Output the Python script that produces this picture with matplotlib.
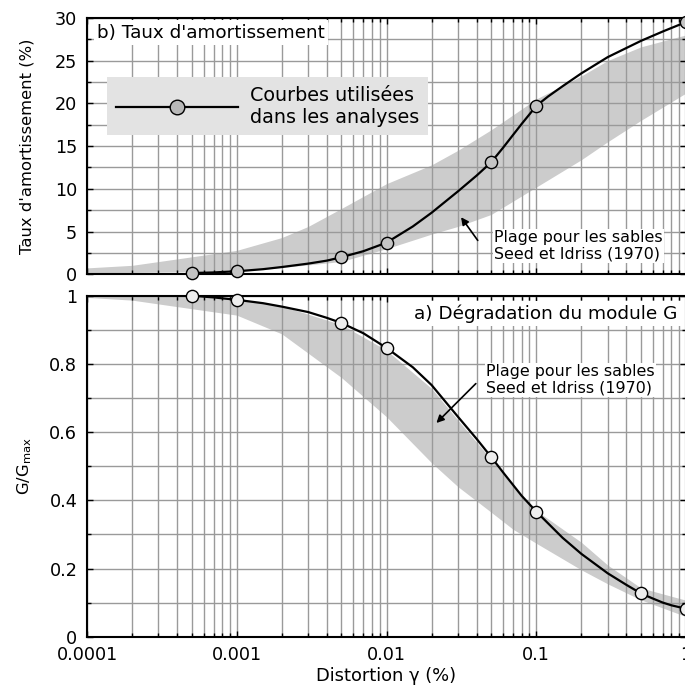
"""Courbes G/Gmax et taux d'amortissement vs distorsion (sables, Seed et Idriss 1970)"""

import numpy as np
import matplotlib
matplotlib.use("Agg")
import matplotlib.pyplot as plt
from matplotlib.ticker import MultipleLocator, FixedLocator, FixedFormatter, NullFormatter
from matplotlib.lines import Line2D

# ---- donnees ----
# taux d'amortissement (%) : courbe utilisee
x_amort_line = [0.0005, 0.0007, 0.001, 0.0015, 0.002, 0.003, 0.004, 0.005, 0.007, 0.01,
                0.015, 0.02, 0.03, 0.04, 0.05, 0.06, 0.07, 0.08, 0.09, 0.1,
                0.12, 0.15, 0.2, 0.3, 0.5, 0.7, 1.0]
amort_line = [0.15, 0.22, 0.35, 0.6, 0.85, 1.25, 1.6, 2.0, 2.7, 3.7,
              5.6, 7.2, 9.7, 11.55, 13.1, 14.8, 16.3, 17.6, 18.7, 19.7,
              20.8, 22.0, 23.5, 25.4, 27.3, 28.4, 29.5]
x_amort_pts = [0.0005, 0.001, 0.005, 0.01, 0.05, 0.1, 1.0]
amort_pts = [0.15, 0.35, 2.0, 3.7, 13.1, 19.7, 29.5]

# plage Seed et Idriss (1970), amortissement
x_band_d = [0.0001, 0.0002, 0.0004, 0.001, 0.002, 0.003, 0.005, 0.01, 0.02, 0.03, 0.05,
            0.1, 0.2, 0.3, 0.5, 1.0]
band_d_hi = [0.75, 1.05, 1.8, 2.8, 4.3, 5.6, 7.7, 10.6, 12.8, 14.5, 16.9,
             20.5, 23.2, 25.0, 26.6, 28.0]
band_d_lo = [0.2, 0.22, 0.28, 0.45, 0.8, 1.1, 1.5, 3.0, 4.7, 5.6, 7.0,
             10.2, 13.4, 15.5, 18.0, 21.2]

# G/Gmax : courbe utilisee
x_g_line = [0.0005, 0.0007, 0.001, 0.0015, 0.002, 0.003, 0.004, 0.005, 0.007, 0.01,
            0.015, 0.02, 0.03, 0.04, 0.05, 0.06, 0.07, 0.08, 0.1, 0.15,
            0.2, 0.3, 0.4, 0.5, 0.6, 0.7, 0.8, 1.0]
g_line = [1.0, 0.995, 0.988, 0.978, 0.968, 0.952, 0.935, 0.92, 0.89, 0.847,
          0.79, 0.738, 0.645, 0.58, 0.527, 0.482, 0.445, 0.413, 0.367, 0.29,
          0.243, 0.186, 0.152, 0.127, 0.112, 0.100, 0.092, 0.082]
x_g_pts = [0.0005, 0.001, 0.005, 0.01, 0.05, 0.1, 0.5, 1.0]
g_pts = [1.0, 0.988, 0.92, 0.847, 0.527, 0.367, 0.127, 0.082]

# plage Seed et Idriss (1970), G/Gmax
x_band_g = [0.0001, 0.0002, 0.0004, 0.001, 0.002, 0.005, 0.01, 0.02, 0.03, 0.05,
            0.07, 0.1, 0.2, 0.3, 0.5, 1.0]
band_g_hi = [1.0, 1.0, 1.0, 0.99, 0.97, 0.915, 0.84, 0.728, 0.635, 0.52,
             0.44, 0.37, 0.277, 0.21, 0.143, 0.107]
band_g_lo = [0.995, 0.987, 0.968, 0.943, 0.888, 0.76, 0.645, 0.51, 0.44, 0.365,
             0.315, 0.274, 0.196, 0.155, 0.108, 0.059]

x_ticks = [0.0001, 0.001, 0.01, 0.1, 1]
x_ticklabels = ["0.0001", "0.001", "0.01", "0.1", "1"]

band_col = "#cccccc"
grid_col = "#9a9a9a"

fig = plt.figure(figsize=(6.85, 6.9), dpi=100)
W, H = 685., 690.
ax_d = fig.add_axes([87/W, 1-274.3/H, 599/W, 256.5/H])
ax_g = fig.add_axes([87/W, 1-636.7/H, 599/W, 341/H])

for ax in (ax_d, ax_g):
    ax.set_xscale("log")
    ax.set_xlim(1e-4, 1)
    ax.set_axisbelow(True)
    ax.grid(which="both", color=grid_col, lw=1.0)
    ax.xaxis.set_major_locator(FixedLocator(x_ticks))
    ax.xaxis.set_minor_locator(FixedLocator(
        [m*10.0**e for e in range(-4, 0) for m in range(2, 10)]))
    ax.xaxis.set_minor_formatter(NullFormatter())
    ax.tick_params(which="both", direction="in", top=True, right=True,
                   labelsize=12.7, pad=7, width=1)
    ax.tick_params(which="major", length=4)
    ax.tick_params(which="minor", length=3)
    for s in ax.spines.values():
        s.set_linewidth(1.5)

# ---- b) amortissement ----
ax_d.fill_between(x_band_d, band_d_lo, band_d_hi, color=band_col, lw=0, zorder=0.3)
ax_d.plot(x_amort_line, amort_line, color="black", lw=1.6, zorder=3)
ax_d.plot(x_amort_pts, amort_pts, ls="none", marker="o", ms=8.8, mfc="#c4c4c4",
          mec="black", mew=1.0, zorder=4, clip_on=False)
ax_d.set_ylim(0, 30)
ax_d.yaxis.set_major_locator(MultipleLocator(5))
ax_d.yaxis.set_minor_locator(MultipleLocator(2.5))
ax_d.tick_params(axis="x", labelbottom=False)
ax_d.set_ylabel("Taux d'amortissement (%)", fontsize=11.8)
ax_d.yaxis.set_label_coords(-0.088, 0.5)

ax_d.text(0.0167, 0.941, "b) Taux d'amortissement", transform=ax_d.transAxes,
          fontsize=13.2, ha="left", va="center", zorder=5,
          bbox=dict(facecolor="white", edgecolor="none", pad=2.5))

handle = Line2D([], [], color="black", lw=1.6, marker="o", ms=10.5,
                mfc="#b8b8b8", mec="black", mew=1.0)
leg = ax_d.legend([handle], ["Courbes utilisées\ndans les analyses"],
                  loc="upper left", bbox_to_anchor=(0.0334, 0.769), borderaxespad=0,
                  fontsize=13.8, handlelength=6.4, handletextpad=0.6, borderpad=0.45,
                  frameon=True, fancybox=False, framealpha=1, numpoints=1)
leg.get_frame().set_facecolor("#e3e3e3")
leg.get_frame().set_edgecolor("none")
leg.set_zorder(6)

ax_d.annotate("", xy=(0.0307, 6.94), xytext=(0.0417, 3.7),
              arrowprops=dict(arrowstyle="-|>", color="black", lw=1.2, mutation_scale=11),
              zorder=5)
ax_d.text(0.0525, 3.3, "Plage pour les sables\nSeed et Idriss (1970)", fontsize=11.4,
          ha="left", va="center", linespacing=1.1, zorder=5,
          bbox=dict(facecolor="white", edgecolor="none", pad=1))

# ---- a) G/Gmax ----
ax_g.fill_between(x_band_g, band_g_lo, band_g_hi, color=band_col, lw=0, zorder=0.3)
ax_g.plot(x_g_line, g_line, color="black", lw=1.6, zorder=3)
ax_g.plot(x_g_pts, g_pts, ls="none", marker="o", ms=8.8, mfc="#eeeeee",
          mec="black", mew=1.0, zorder=4, clip_on=False)
ax_g.set_ylim(0, 1)
ax_g.yaxis.set_major_locator(FixedLocator([0, 0.2, 0.4, 0.6, 0.8, 1.0]))
ax_g.yaxis.set_major_formatter(FixedFormatter(["0", "0.2", "0.4", "0.6", "0.8", "1"]))
ax_g.yaxis.set_minor_locator(MultipleLocator(0.1))
ax_g.xaxis.set_major_formatter(FixedFormatter(x_ticklabels))
ax_g.set_ylabel(r"G/G$_{\mathregular{max}}$", fontsize=11.8)
ax_g.yaxis.set_label_coords(-0.088, 0.5)
ax_g.set_xlabel("Distortion γ (%)", fontsize=12.9, labelpad=2)

ax_g.text(0.985, 0.948, "a) Dégradation du module G", transform=ax_g.transAxes,
          fontsize=13.3, ha="right", va="center", zorder=5,
          bbox=dict(facecolor="white", edgecolor="none", pad=2.5))

ax_g.annotate("", xy=(0.0209, 0.621), xytext=(0.0407, 0.748),
              arrowprops=dict(arrowstyle="-|>", color="black", lw=1.2, mutation_scale=11),
              zorder=5)
ax_g.text(0.0462, 0.754, "Plage pour les sables\nSeed et Idriss (1970)", fontsize=11.4,
          ha="left", va="center", linespacing=1.1, zorder=5,
          bbox=dict(facecolor="white", edgecolor="none", pad=1))

plt.savefig("out.png", dpi=100)
